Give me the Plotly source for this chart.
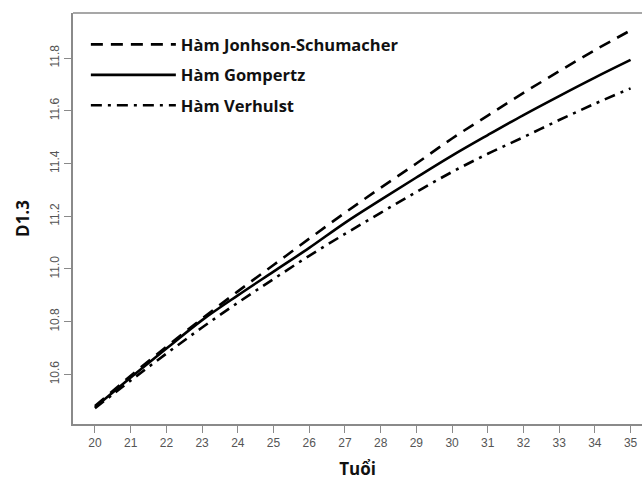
import plotly.graph_objects as go

ages = list(range(20, 36))
johnson_schumacher = [10.48, 10.595, 10.705, 10.812, 10.915, 11.015, 11.115, 11.213, 11.308,
                      11.40, 11.495, 11.582, 11.668, 11.75, 11.83, 11.905]
gompertz = [10.476, 10.588, 10.698, 10.806, 10.90, 10.99, 11.08, 11.175, 11.262,
            11.347, 11.43, 11.508, 11.584, 11.656, 11.726, 11.793]
verhulst = [10.472, 10.577, 10.679, 10.778, 10.872, 10.962, 11.05, 11.133, 11.213,
            11.292, 11.368, 11.437, 11.50, 11.565, 11.627, 11.685]

names = ["Hàm Jonhson-Schumacher", "Hàm Gompertz", "Hàm Verhulst"]
series = [johnson_schumacher, gompertz, verhulst]
dashes = ["12px,8px", "solid", "11px,6px,3px,6px"]

x_ticks = list(range(20, 36))
y_ticks = [10.6, 10.8, 11.0, 11.2, 11.4, 11.6, 11.8]

fig = go.Figure()
for i, (nm, ys, ds) in enumerate(zip(names, series, dashes)):
    fig.add_trace(go.Scatter(
        x=ages, y=ys, mode="lines", name=nm, legendgroup=str(i),
        line=dict(color="black", width=2.6, dash=ds, shape="spline"),
    ))

axis_col = "#8a8a8a"
tick_font = dict(family="Liberation Sans, Arial, sans-serif", size=12, color="#555555")
title_font = dict(family="Open Sans, sans-serif", size=17, color="#111111", weight="bold")

fig.update_layout(
    width=642, height=484,
    margin=dict(l=73, r=0, t=13, b=60, autoexpand=False),
    plot_bgcolor="white", paper_bgcolor="white",
    showlegend=True,
    legend=dict(
        x=0.0226, y=0.9655, xanchor="left", yanchor="top",
        font=dict(family="Open Sans, sans-serif", size=16.5, color="#111111", weight="bold"),
        itemwidth=85, tracegroupgap=6, bgcolor="rgba(0,0,0,0)",
    ),
    xaxis=dict(
        range=[19.384, 35.32], tickmode="array", tickvals=x_ticks, automargin=False,
        ticks="outside", ticklen=7, tickcolor=axis_col, tickwidth=1.3,
        showline=True, linecolor=axis_col, linewidth=1.6,
        showgrid=False, zeroline=False, tickfont=tick_font,
        title=dict(text="Tuổi", font=title_font, standoff=14),
    ),
    yaxis=dict(
        range=[10.412, 11.971], tickmode="array", tickvals=y_ticks, automargin=False,
        ticktext=[f"{v:.1f}" for v in y_ticks], tickangle=-90,
        ticks="outside", ticklen=7, tickcolor=axis_col, tickwidth=1.3,
        showline=True, linecolor=axis_col, linewidth=1.6,
        showgrid=False, zeroline=False, tickfont=tick_font,
        title=dict(text="D1.3", font=title_font, standoff=14),
    ),
    shapes=[dict(type="line", xref="paper", yref="paper", x0=0, x1=1, y0=1, y1=1,
                 line=dict(color=axis_col, width=1.6))],
)

fig.write_html("out.html", config={"displayModeBar": False},
               post_script="document.body.style.margin='0px';")
